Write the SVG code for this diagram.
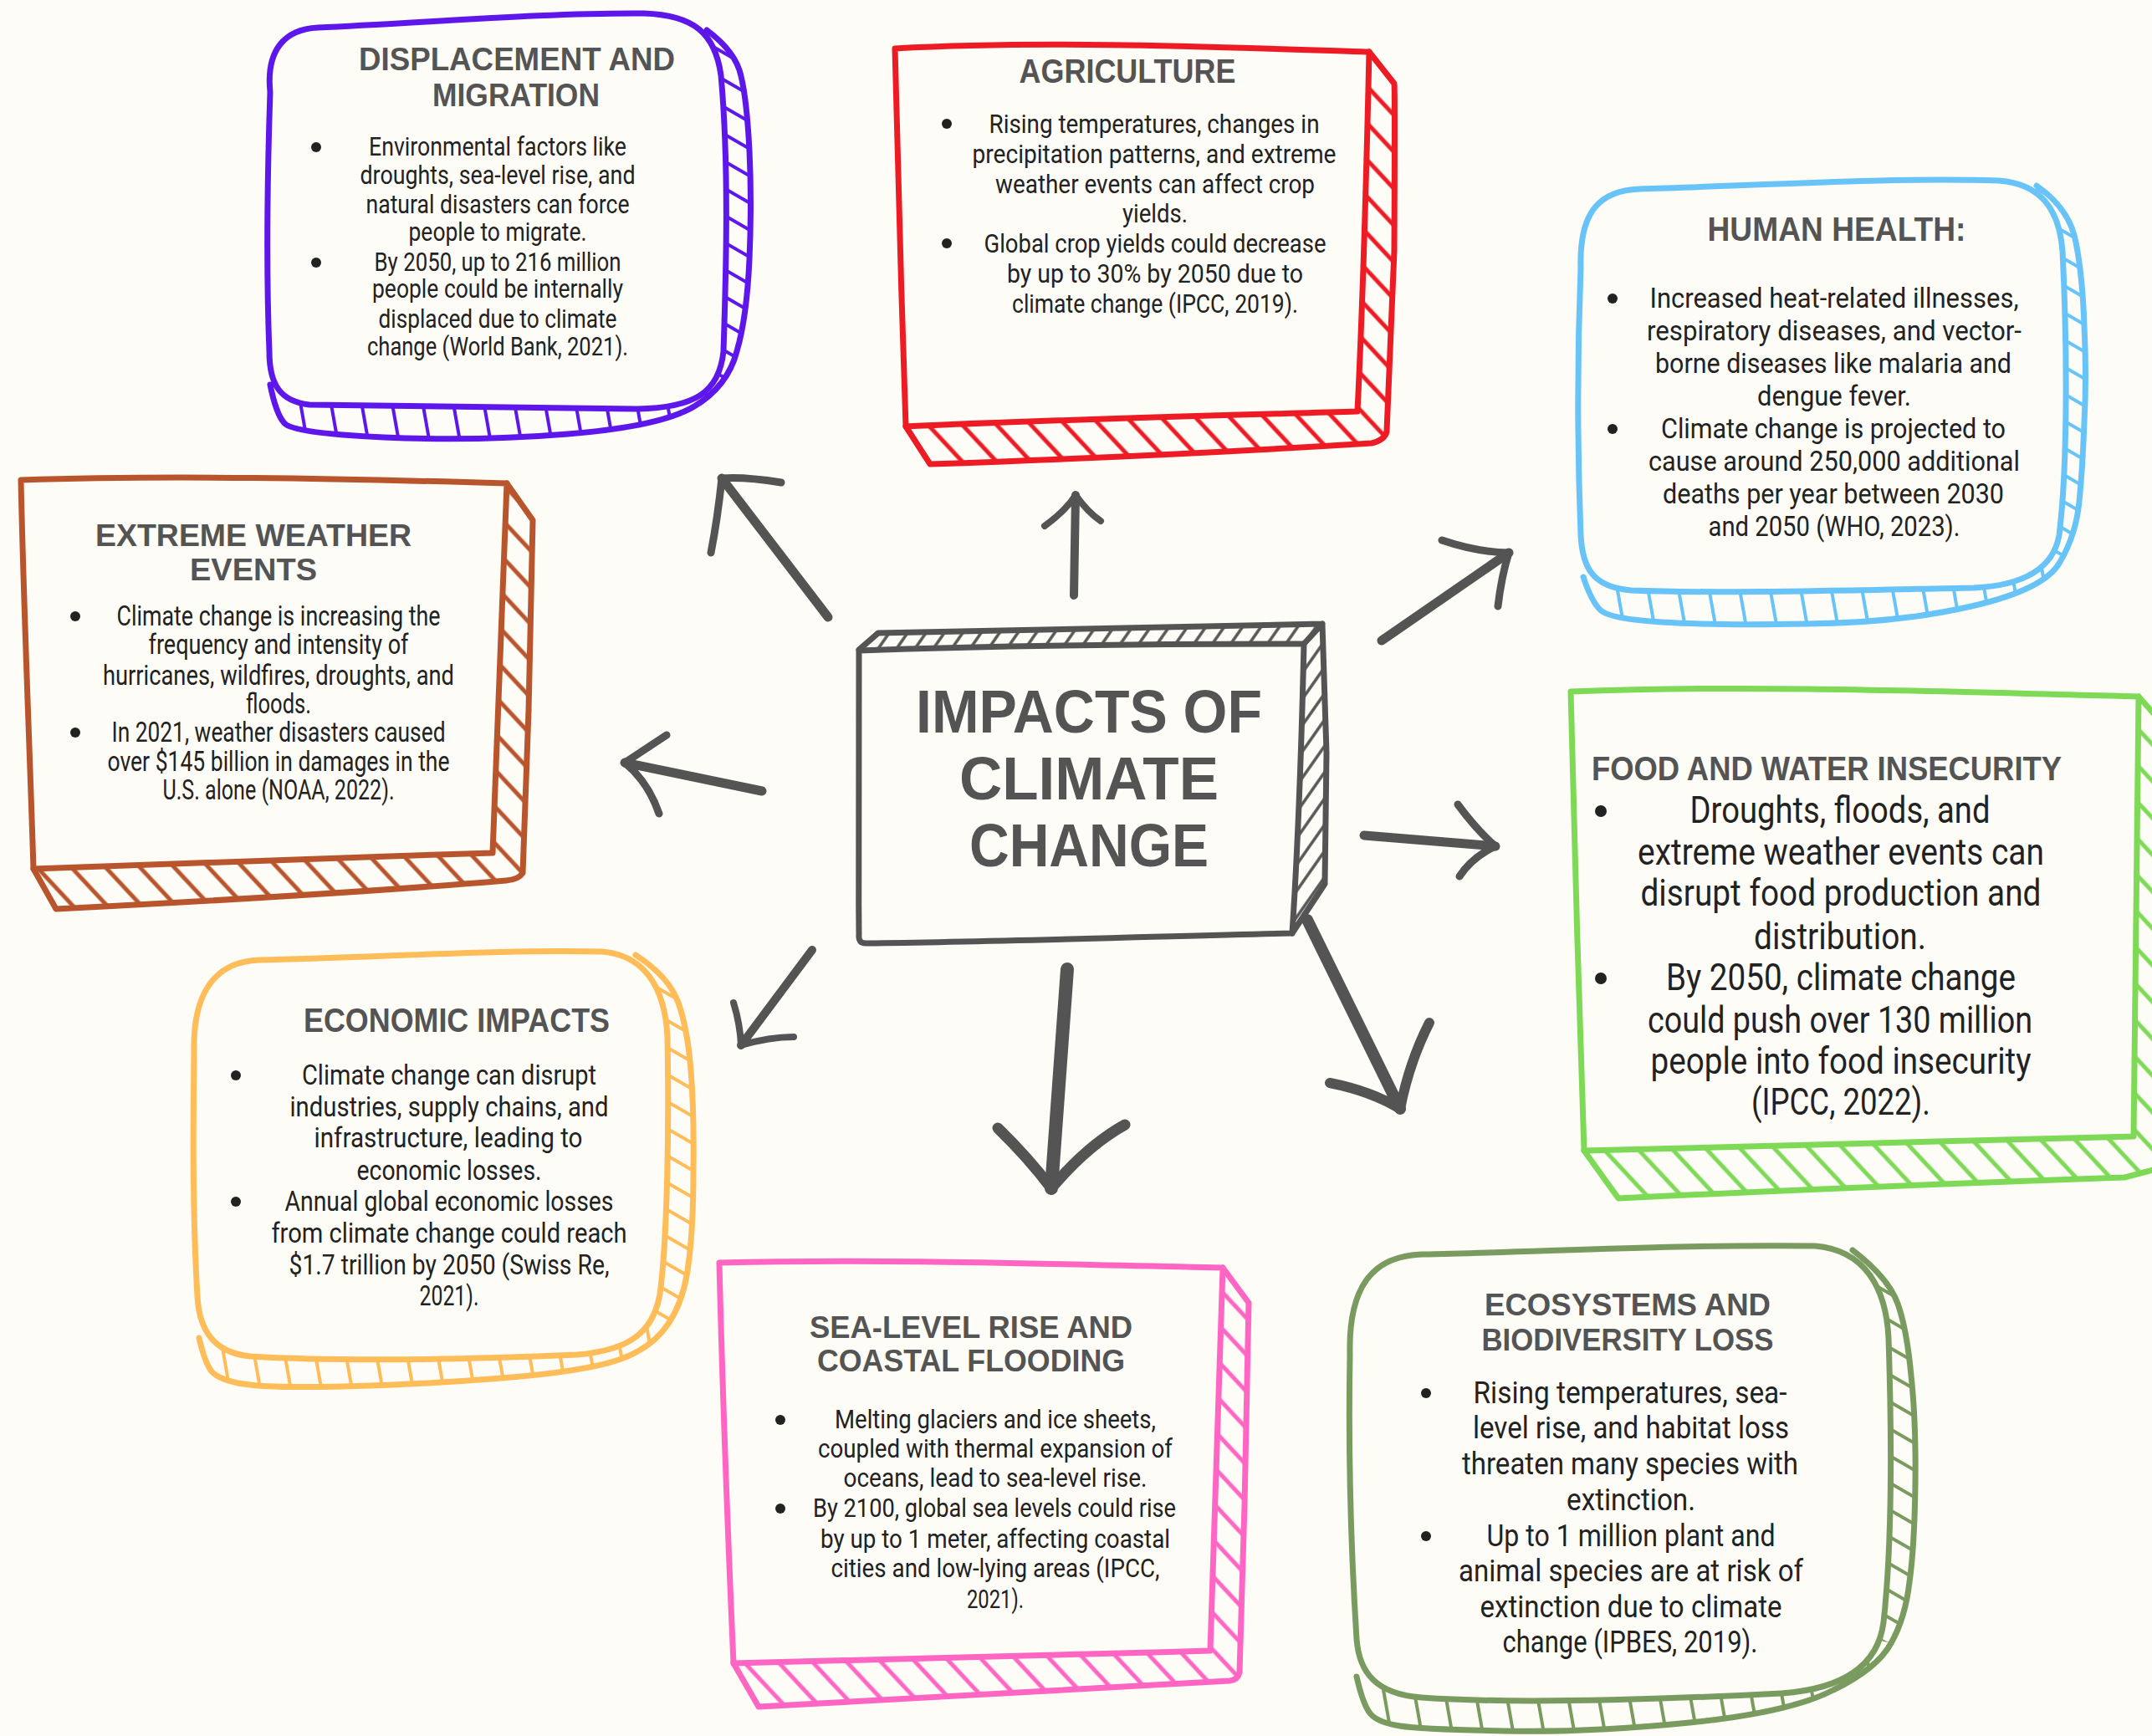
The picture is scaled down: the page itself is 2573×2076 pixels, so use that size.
<svg xmlns="http://www.w3.org/2000/svg" width="2573" height="2076" viewBox="0 0 2573 2076">
<style>
.face{fill:#fdfcf6;stroke-width:7;stroke-linejoin:round;stroke-linecap:round}
.edge{fill:none;stroke-width:7;stroke-linejoin:round;stroke-linecap:round}
.t{font-family:"Liberation Sans",Arial,sans-serif;font-weight:700;fill:#545454;text-anchor:middle}
.b{font-family:Roboto,"Liberation Sans",sans-serif;fill:#222;text-anchor:middle}
.bul{fill:#222}
.arrow{fill:none;stroke:#545454;stroke-linecap:round;stroke-linejoin:round}
.purple{stroke:#5e17eb}.red{stroke:#ed1c24}.blue{stroke:#68c4f8}.brown{stroke:#b9552d}
.green{stroke:#7ed957}.orange{stroke:#ffbd59}.pink{stroke:#ff66c4}.olive{stroke:#7a9b60}.gray{stroke:#545454}
</style>
<defs>
<pattern id="hv-purple" patternUnits="userSpaceOnUse" width="36" height="36" patternTransform="rotate(-10)"><line x1="18" y1="-2" x2="18" y2="38" stroke="#5e17eb" stroke-width="4"/></pattern>
<pattern id="hh-purple" patternUnits="userSpaceOnUse" width="28" height="28" patternTransform="rotate(30)"><line x1="-2" y1="14" x2="30" y2="14" stroke="#5e17eb" stroke-width="4"/></pattern>
<pattern id="hv-blue" patternUnits="userSpaceOnUse" width="36" height="36" patternTransform="rotate(-10)"><line x1="18" y1="-2" x2="18" y2="38" stroke="#68c4f8" stroke-width="4"/></pattern>
<pattern id="hh-blue" patternUnits="userSpaceOnUse" width="28" height="28" patternTransform="rotate(30)"><line x1="-2" y1="14" x2="30" y2="14" stroke="#68c4f8" stroke-width="4"/></pattern>
<pattern id="hv-orange" patternUnits="userSpaceOnUse" width="36" height="36" patternTransform="rotate(-10)"><line x1="18" y1="-2" x2="18" y2="38" stroke="#ffbd59" stroke-width="4"/></pattern>
<pattern id="hh-orange" patternUnits="userSpaceOnUse" width="28" height="28" patternTransform="rotate(30)"><line x1="-2" y1="14" x2="30" y2="14" stroke="#ffbd59" stroke-width="4"/></pattern>
<pattern id="hv-olive" patternUnits="userSpaceOnUse" width="36" height="36" patternTransform="rotate(-10)"><line x1="18" y1="-2" x2="18" y2="38" stroke="#7a9b60" stroke-width="4"/></pattern>
<pattern id="hh-olive" patternUnits="userSpaceOnUse" width="28" height="28" patternTransform="rotate(30)"><line x1="-2" y1="14" x2="30" y2="14" stroke="#7a9b60" stroke-width="4"/></pattern>
<pattern id="hd-red" patternUnits="userSpaceOnUse" width="30" height="30" patternTransform="rotate(-43)"><line x1="15" y1="-2" x2="15" y2="32" stroke="#ed1c24" stroke-width="5"/></pattern>
<pattern id="hd-brown" patternUnits="userSpaceOnUse" width="30" height="30" patternTransform="rotate(-43)"><line x1="15" y1="-2" x2="15" y2="32" stroke="#b9552d" stroke-width="5"/></pattern>
<pattern id="hd-green" patternUnits="userSpaceOnUse" width="30" height="30" patternTransform="rotate(-43)"><line x1="15" y1="-2" x2="15" y2="32" stroke="#7ed957" stroke-width="5"/></pattern>
<pattern id="hd-pink" patternUnits="userSpaceOnUse" width="30" height="30" patternTransform="rotate(-43)"><line x1="15" y1="-2" x2="15" y2="32" stroke="#ff66c4" stroke-width="5"/></pattern>
<pattern id="hd-gray" patternUnits="userSpaceOnUse" width="18" height="18" patternTransform="rotate(35)"><line x1="9" y1="-2" x2="9" y2="20" stroke="#545454" stroke-width="3.5"/></pattern>
</defs>
<rect x="0" y="0" width="2573" height="2076" fill="#fdfcf6"/>

<g id="connectors">
<path class="arrow" stroke-width="11" d="M 990 738 L 863 572"/>
<path class="arrow" stroke-width="9" d="M 934 577 Q 890 570 863 572 Q 858 620 850 661"/>
<path class="arrow" stroke-width="10" d="M 1284 712 L 1286 592"/>
<path class="arrow" stroke-width="8" d="M 1249 629 Q 1275 610 1286 592 Q 1300 612 1316 623"/>
<path class="arrow" stroke-width="11" d="M 1652 766 L 1804 661"/>
<path class="arrow" stroke-width="9" d="M 1724 646 Q 1765 660 1804 661 Q 1795 690 1791 725"/>
<path class="arrow" stroke-width="11" d="M 911 946 L 747 912"/>
<path class="arrow" stroke-width="9" d="M 797 879 Q 765 900 747 912 Q 775 935 788 973"/>
<path class="arrow" stroke-width="11" d="M 1631 999 L 1788 1012"/>
<path class="arrow" stroke-width="9" d="M 1743 962 Q 1765 992 1788 1012 Q 1760 1025 1745 1048"/>
<path class="arrow" stroke-width="10" d="M 971 1136 L 886 1250"/>
<path class="arrow" stroke-width="8" d="M 877 1199 Q 885 1225 886 1250 Q 920 1240 949 1240"/>
<path class="arrow" stroke-width="16" d="M 1276 1159 L 1257 1421"/>
<path class="arrow" stroke-width="13" d="M 1193 1349 Q 1230 1385 1257 1421 Q 1300 1370 1345 1345"/>
<path class="arrow" stroke-width="14" d="M 1563 1100 L 1674 1326"/>
<path class="arrow" stroke-width="12" d="M 1590 1295 Q 1640 1305 1674 1326 Q 1685 1270 1709 1223"/>
</g>

<g id="node-center">
<path fill="url(#hd-gray)" d="M 1027 777 L 1050 757 L 1581 746 L 1586 900 L 1584 1057 L 1545 1116 L 1559 770 Z"/>
<path class="edge gray" stroke-width="5" d="M 1027 777 L 1050 757 L 1581 746 L 1586 900 L 1584 1057 L 1545 1116 M 1559 770 L 1581 746"/>
<path class="face gray" stroke-width="5" d="M 1027 778 C 1200 772 1400 770 1559 770 C 1556 900 1552 1010 1545 1116 C 1380 1120 1200 1126 1035 1128 Q 1026 1128 1027 1118 C 1026 1000 1026 880 1027 778 Z"/>
<text class="t" font-size="72" x="1302" y="876" textLength="414" lengthAdjust="spacingAndGlyphs">IMPACTS OF</text>
<text class="t" font-size="72" x="1302" y="956" textLength="310" lengthAdjust="spacingAndGlyphs">CLIMATE</text>
<text class="t" font-size="72" x="1302" y="1036" textLength="286" lengthAdjust="spacingAndGlyphs">CHANGE</text>
</g>

<g id="node-displacement">
<path fill="url(#hh-purple)" d="M 845 36 Q 880 62 886 91 Q 893 120 896 180 Q 899 241 896 310 Q 893 379 881 420 Q 870 462 830 486 L 780 440 L 800 100 Z"/>
<path fill="url(#hv-purple)" d="M 830 486 Q 790 510 679 519 Q 568 528 459 523 Q 350 518 340 506 Q 330 495 323 460 L 400 440 L 780 440 Z"/>
<path class="edge purple" d="M 845 36 Q 880 62 886 91 Q 893 120 896 180 Q 899 241 896 310 Q 893 379 881 420 Q 870 462 830 486 Q 790 510 679 519 Q 568 528 459 523 Q 350 518 340 506 Q 330 495 323 460"/>
<path class="face purple" d="M 323 110 C 318 60 340 35 380 33 C 500 28 650 15 770 16 C 830 18 855 40 862 90 C 872 200 868 330 865 420 C 860 470 830 488 760 489 C 600 488 450 486 370 484 C 335 480 322 460 322 420 C 318 320 320 200 323 110 Z"/>
<text class="t" font-size="38" x="618" y="84" textLength="378" lengthAdjust="spacingAndGlyphs">DISPLACEMENT AND</text>
<text class="t" font-size="38" x="617" y="127" textLength="200" lengthAdjust="spacingAndGlyphs">MIGRATION</text>
<circle class="bul" cx="378" cy="176" r="6"/>
<circle class="bul" cx="378" cy="314" r="6"/>
<text class="b" font-size="31" x="595" y="186" textLength="308" lengthAdjust="spacingAndGlyphs">Environmental factors like</text>
<text class="b" font-size="31" x="595" y="220" textLength="329" lengthAdjust="spacingAndGlyphs">droughts, sea-level rise, and</text>
<text class="b" font-size="31" x="595" y="255" textLength="315" lengthAdjust="spacingAndGlyphs">natural disasters can force</text>
<text class="b" font-size="31" x="595" y="288" textLength="213" lengthAdjust="spacingAndGlyphs">people to migrate.</text>
<text class="b" font-size="31" x="595" y="324" textLength="295" lengthAdjust="spacingAndGlyphs">By 2050, up to 216 million</text>
<text class="b" font-size="31" x="595" y="356" textLength="300" lengthAdjust="spacingAndGlyphs">people could be internally</text>
<text class="b" font-size="31" x="595" y="392" textLength="285" lengthAdjust="spacingAndGlyphs">displaced due to climate</text>
<text class="b" font-size="31" x="595" y="425" textLength="312" lengthAdjust="spacingAndGlyphs">change (World Bank, 2021).</text>
</g>

<g id="node-agriculture">
<path fill="url(#hd-red)" d="M 1637 62 L 1667 100 L 1667 300 L 1658 516 L 1640 530 L 1400 545 L 1112 555 L 1083 510 L 1623 492 Z"/>
<path class="edge red" d="M 1637 62 L 1667 100 Q 1668 110 1667 300 L 1658 516 Q 1656 526 1640 530 Q 1400 545 1112 555 L 1083 510"/>
<path class="face red" d="M 1070 58 C 1250 48 1450 56 1637 62 C 1634 200 1630 350 1623 492 C 1450 497 1250 502 1083 510 C 1078 360 1073 200 1070 58 Z"/>
<text class="t" font-size="40" x="1348" y="99" textLength="259" lengthAdjust="spacingAndGlyphs">AGRICULTURE</text>
<circle class="bul" cx="1132" cy="148" r="6"/>
<circle class="bul" cx="1132" cy="291" r="6"/>
<text class="b" font-size="32" x="1380" y="159" textLength="395" lengthAdjust="spacingAndGlyphs">Rising temperatures, changes in</text>
<text class="b" font-size="32" x="1380" y="195" textLength="435" lengthAdjust="spacingAndGlyphs">precipitation patterns, and extreme</text>
<text class="b" font-size="32" x="1381" y="231" textLength="382" lengthAdjust="spacingAndGlyphs">weather events can affect crop</text>
<text class="b" font-size="32" x="1381" y="266" textLength="78" lengthAdjust="spacingAndGlyphs">yields.</text>
<text class="b" font-size="32" x="1381" y="302" textLength="409" lengthAdjust="spacingAndGlyphs">Global crop yields could decrease</text>
<text class="b" font-size="32" x="1381" y="338" textLength="354" lengthAdjust="spacingAndGlyphs">by up to 30% by 2050 due to</text>
<text class="b" font-size="32" x="1381" y="374" textLength="342" lengthAdjust="spacingAndGlyphs">climate change (IPCC, 2019).</text>
</g>

<g id="node-health">
<path fill="url(#hh-blue)" d="M 2435 222 Q 2475 250 2482 290 Q 2490 330 2492 390 Q 2495 450 2492 505 Q 2490 560 2486 600 Q 2482 640 2463 672 L 2400 650 L 2420 260 Z"/>
<path fill="url(#hv-blue)" d="M 2463 672 Q 2445 705 2357 725 Q 2270 745 2160 746 Q 2050 748 1987 744 Q 1925 740 1914 730 Q 1903 720 1893 690 L 1950 650 L 2400 650 Z"/>
<path class="edge blue" d="M 2435 222 Q 2475 250 2482 290 Q 2490 330 2492 390 Q 2495 450 2492 505 Q 2490 560 2486 600 Q 2482 640 2463 672 Q 2445 705 2357 725 Q 2270 745 2160 746 Q 2050 748 1987 744 Q 1925 740 1914 730 Q 1903 720 1893 690"/>
<path class="face blue" d="M 1890 320 C 1888 250 1915 228 1960 226 C 2100 222 2250 212 2390 216 C 2440 220 2462 250 2466 300 C 2472 420 2472 560 2462 640 C 2455 680 2420 700 2360 703 C 2200 706 2050 710 1950 706 C 1905 702 1892 680 1890 640 C 1886 540 1886 420 1890 320 Z"/>
<text class="t" font-size="40" x="2196" y="288" textLength="309" lengthAdjust="spacingAndGlyphs">HUMAN HEALTH:</text>
<circle class="bul" cx="1928" cy="357" r="6"/>
<circle class="bul" cx="1928" cy="513" r="6"/>
<text class="b" font-size="34" x="2193" y="368" textLength="441" lengthAdjust="spacingAndGlyphs">Increased heat-related illnesses,</text>
<text class="b" font-size="34" x="2193" y="407" textLength="448" lengthAdjust="spacingAndGlyphs">respiratory diseases, and vector-</text>
<text class="b" font-size="34" x="2192" y="446" textLength="426" lengthAdjust="spacingAndGlyphs">borne diseases like malaria and</text>
<text class="b" font-size="34" x="2193" y="485" textLength="184" lengthAdjust="spacingAndGlyphs">dengue fever.</text>
<text class="b" font-size="34" x="2192" y="524" textLength="412" lengthAdjust="spacingAndGlyphs">Climate change is projected to</text>
<text class="b" font-size="34" x="2193" y="563" textLength="444" lengthAdjust="spacingAndGlyphs">cause around 250,000 additional</text>
<text class="b" font-size="34" x="2192" y="602" textLength="408" lengthAdjust="spacingAndGlyphs">deaths per year between 2030</text>
<text class="b" font-size="34" x="2193" y="641" textLength="301" lengthAdjust="spacingAndGlyphs">and 2050 (WHO, 2023).</text>
</g>

<g id="node-extreme">
<path fill="url(#hd-brown)" d="M 606 578 L 637 622 L 632 850 L 625 1044 L 605 1053 L 400 1070 L 67 1087 L 40 1039 L 589 1020 Z"/>
<path class="edge brown" d="M 606 578 L 637 622 L 632 850 L 625 1044 Q 620 1052 605 1053 Q 400 1070 67 1087 L 40 1039"/>
<path class="face brown" d="M 25 574 C 200 568 400 572 606 578 C 600 720 595 880 589 1020 C 400 1026 200 1032 40 1039 C 35 880 28 720 25 574 Z"/>
<text class="t" font-size="37" x="303" y="653" textLength="378" lengthAdjust="spacingAndGlyphs">EXTREME WEATHER</text>
<text class="t" font-size="37" x="303" y="694" textLength="152" lengthAdjust="spacingAndGlyphs">EVENTS</text>
<circle class="bul" cx="90" cy="737" r="6"/>
<circle class="bul" cx="90" cy="876" r="6"/>
<text class="b" font-size="33" x="333" y="748" textLength="387" lengthAdjust="spacingAndGlyphs">Climate change is increasing the</text>
<text class="b" font-size="33" x="333" y="782" textLength="311" lengthAdjust="spacingAndGlyphs">frequency and intensity of</text>
<text class="b" font-size="33" x="333" y="819" textLength="420" lengthAdjust="spacingAndGlyphs">hurricanes, wildfires, droughts, and</text>
<text class="b" font-size="33" x="333" y="853" textLength="78" lengthAdjust="spacingAndGlyphs">floods.</text>
<text class="b" font-size="33" x="333" y="887" textLength="399" lengthAdjust="spacingAndGlyphs">In 2021, weather disasters caused</text>
<text class="b" font-size="33" x="333" y="922" textLength="409" lengthAdjust="spacingAndGlyphs">over $145 billion in damages in the</text>
<text class="b" font-size="33" x="333" y="956" textLength="277" lengthAdjust="spacingAndGlyphs">U.S. alone (NOAA, 2022).</text>
</g>

<g id="node-food">
<path fill="url(#hd-green)" d="M 2557 833 L 2590 870 L 2590 1395 L 2540 1408 L 1935 1433 L 1894 1376 L 2551 1359 Z"/>
<path class="edge green" d="M 2557 833 L 2590 870 L 2590 1395 L 2540 1408 Q 2200 1420 1935 1433 L 1894 1376"/>
<path class="face green" d="M 1878 827 C 2100 818 2350 828 2557 833 C 2555 1000 2553 1200 2551 1359 C 2350 1365 2100 1370 1894 1376 C 1888 1200 1882 1000 1878 827 Z"/>
<text class="t" font-size="40" x="2184" y="933" textLength="562" lengthAdjust="spacingAndGlyphs">FOOD AND WATER INSECURITY</text>
<circle class="bul" cx="1914" cy="970" r="7"/>
<circle class="bul" cx="1914" cy="1170" r="7"/>
<text class="b" font-size="45" x="2200" y="984" textLength="359" lengthAdjust="spacingAndGlyphs">Droughts, floods, and</text>
<text class="b" font-size="45" x="2201" y="1034" textLength="486" lengthAdjust="spacingAndGlyphs">extreme weather events can</text>
<text class="b" font-size="45" x="2201" y="1083" textLength="479" lengthAdjust="spacingAndGlyphs">disrupt food production and</text>
<text class="b" font-size="45" x="2200" y="1135" textLength="206" lengthAdjust="spacingAndGlyphs">distribution.</text>
<text class="b" font-size="45" x="2201" y="1184" textLength="418" lengthAdjust="spacingAndGlyphs">By 2050, climate change</text>
<text class="b" font-size="45" x="2200" y="1235" textLength="460" lengthAdjust="spacingAndGlyphs">could push over 130 million</text>
<text class="b" font-size="45" x="2201" y="1284" textLength="455" lengthAdjust="spacingAndGlyphs">people into food insecurity</text>
<text class="b" font-size="45" x="2201" y="1333" textLength="214" lengthAdjust="spacingAndGlyphs">(IPCC, 2022).</text>
</g>

<g id="node-economic">
<path fill="url(#hh-orange)" d="M 760 1142 Q 800 1168 811 1199 Q 822 1230 826 1280 Q 830 1330 829 1400 Q 829 1470 823 1512 Q 818 1555 799 1583 L 740 1560 L 760 1200 Z"/>
<path fill="url(#hv-orange)" d="M 799 1583 Q 780 1612 740 1626 Q 700 1640 600 1648 Q 500 1656 410 1658 Q 320 1660 291 1655 Q 262 1650 253 1640 Q 245 1630 238 1600 L 300 1580 L 740 1560 Z"/>
<path class="edge orange" d="M 760 1142 Q 800 1168 811 1199 Q 822 1230 826 1280 Q 830 1330 829 1400 Q 829 1470 823 1512 Q 818 1555 799 1583 Q 780 1612 740 1626 Q 700 1640 600 1648 Q 500 1656 410 1658 Q 320 1660 291 1655 Q 262 1650 253 1640 Q 245 1630 238 1600"/>
<path class="face orange" d="M 232 1260 C 230 1190 255 1150 310 1148 C 450 1145 600 1135 720 1138 C 770 1142 795 1180 798 1240 C 800 1350 798 1470 790 1540 C 784 1595 750 1615 690 1620 C 550 1626 400 1628 300 1622 C 255 1618 238 1590 236 1550 C 230 1450 231 1350 232 1260 Z"/>
<text class="t" font-size="40" x="546" y="1234" textLength="366" lengthAdjust="spacingAndGlyphs">ECONOMIC IMPACTS</text>
<circle class="bul" cx="282" cy="1286" r="6"/>
<circle class="bul" cx="282" cy="1437" r="6"/>
<text class="b" font-size="34" x="537" y="1297" textLength="352" lengthAdjust="spacingAndGlyphs">Climate change can disrupt</text>
<text class="b" font-size="34" x="537" y="1335" textLength="381" lengthAdjust="spacingAndGlyphs">industries, supply chains, and</text>
<text class="b" font-size="34" x="536" y="1372" textLength="321" lengthAdjust="spacingAndGlyphs">infrastructure, leading to</text>
<text class="b" font-size="34" x="537" y="1411" textLength="221" lengthAdjust="spacingAndGlyphs">economic losses.</text>
<text class="b" font-size="34" x="537" y="1448" textLength="393" lengthAdjust="spacingAndGlyphs">Annual global economic losses</text>
<text class="b" font-size="34" x="537" y="1486" textLength="425" lengthAdjust="spacingAndGlyphs">from climate change could reach</text>
<text class="b" font-size="34" x="537" y="1524" textLength="383" lengthAdjust="spacingAndGlyphs">$1.7 trillion by 2050 (Swiss Re,</text>
<text class="b" font-size="34" x="537" y="1561" textLength="71" lengthAdjust="spacingAndGlyphs">2021).</text>
</g>

<g id="node-sealevel">
<path fill="url(#hd-pink)" d="M 1462 1516 L 1493 1558 L 1488 1800 L 1482 2000 L 1470 2010 L 1200 2025 L 907 2041 L 877 1989 L 1447 1974 Z"/>
<path class="edge pink" d="M 1462 1516 L 1493 1558 L 1488 1800 L 1482 2000 Q 1480 2009 1470 2010 Q 1200 2025 907 2041 L 877 1989"/>
<path class="face pink" d="M 860 1510 C 1060 1505 1260 1512 1462 1516 C 1457 1670 1452 1820 1447 1974 C 1250 1980 1050 1985 877 1989 C 870 1830 864 1670 860 1510 Z"/>
<text class="t" font-size="36" x="1161" y="1600" textLength="386" lengthAdjust="spacingAndGlyphs">SEA-LEVEL RISE AND</text>
<text class="t" font-size="36" x="1161" y="1640" textLength="368" lengthAdjust="spacingAndGlyphs">COASTAL FLOODING</text>
<circle class="bul" cx="933" cy="1698" r="6"/>
<circle class="bul" cx="933" cy="1804" r="6"/>
<text class="b" font-size="32" x="1190" y="1708" textLength="384" lengthAdjust="spacingAndGlyphs">Melting glaciers and ice sheets,</text>
<text class="b" font-size="32" x="1190" y="1743" textLength="424" lengthAdjust="spacingAndGlyphs">coupled with thermal expansion of</text>
<text class="b" font-size="32" x="1190" y="1778" textLength="363" lengthAdjust="spacingAndGlyphs">oceans, lead to sea-level rise.</text>
<text class="b" font-size="32" x="1189" y="1814" textLength="434" lengthAdjust="spacingAndGlyphs">By 2100, global sea levels could rise</text>
<text class="b" font-size="32" x="1190" y="1851" textLength="418" lengthAdjust="spacingAndGlyphs">by up to 1 meter, affecting coastal</text>
<text class="b" font-size="32" x="1190" y="1886" textLength="393" lengthAdjust="spacingAndGlyphs">cities and low-lying areas (IPCC,</text>
<text class="b" font-size="32" x="1190" y="1923" textLength="68" lengthAdjust="spacingAndGlyphs">2021).</text>
</g>

<g id="node-ecosystems">
<path fill="url(#hh-olive)" d="M 2215 1495 Q 2258 1528 2269 1559 Q 2280 1590 2285 1645 Q 2291 1700 2290 1775 Q 2289 1850 2283 1892 Q 2278 1935 2261 1965 L 2200 1950 L 2200 1550 Z"/>
<path fill="url(#hv-olive)" d="M 2261 1965 Q 2245 1995 2192 2021 Q 2140 2048 2020 2060 Q 1900 2072 1800 2070 Q 1700 2068 1674 2064 Q 1648 2060 1639 2050 Q 1630 2040 1622 2005 L 1700 1980 L 2200 1950 Z"/>
<path class="edge olive" d="M 2215 1495 Q 2258 1528 2269 1559 Q 2280 1590 2285 1645 Q 2291 1700 2290 1775 Q 2289 1850 2283 1892 Q 2278 1935 2261 1965 Q 2245 1995 2192 2021 Q 2140 2048 2020 2060 Q 1900 2072 1800 2070 Q 1700 2068 1674 2064 Q 1648 2060 1639 2050 Q 1630 2040 1622 2005"/>
<path class="face olive" d="M 1614 1620 C 1612 1540 1640 1502 1700 1500 C 1850 1497 2000 1488 2170 1490 C 2230 1495 2255 1540 2258 1600 C 2262 1720 2262 1850 2252 1940 C 2245 1995 2200 2020 2130 2025 C 1970 2033 1810 2038 1700 2030 C 1645 2026 1625 2000 1622 1960 C 1615 1850 1612 1730 1614 1620 Z"/>
<text class="t" font-size="37" x="1946" y="1573" textLength="342" lengthAdjust="spacingAndGlyphs">ECOSYSTEMS AND</text>
<text class="t" font-size="37" x="1946" y="1615" textLength="349" lengthAdjust="spacingAndGlyphs">BIODIVERSITY LOSS</text>
<circle class="bul" cx="1705" cy="1666" r="6"/>
<circle class="bul" cx="1705" cy="1837" r="6"/>
<text class="b" font-size="36" x="1949" y="1678" textLength="375" lengthAdjust="spacingAndGlyphs">Rising temperatures, sea-</text>
<text class="b" font-size="36" x="1950" y="1720" textLength="378" lengthAdjust="spacingAndGlyphs">level rise, and habitat loss</text>
<text class="b" font-size="36" x="1949" y="1763" textLength="402" lengthAdjust="spacingAndGlyphs">threaten many species with</text>
<text class="b" font-size="36" x="1950" y="1806" textLength="154" lengthAdjust="spacingAndGlyphs">extinction.</text>
<text class="b" font-size="36" x="1950" y="1849" textLength="345" lengthAdjust="spacingAndGlyphs">Up to 1 million plant and</text>
<text class="b" font-size="36" x="1950" y="1891" textLength="412" lengthAdjust="spacingAndGlyphs">animal species are at risk of</text>
<text class="b" font-size="36" x="1950" y="1934" textLength="361" lengthAdjust="spacingAndGlyphs">extinction due to climate</text>
<text class="b" font-size="36" x="1949" y="1976" textLength="305" lengthAdjust="spacingAndGlyphs">change (IPBES, 2019).</text>
</g>
</svg>
